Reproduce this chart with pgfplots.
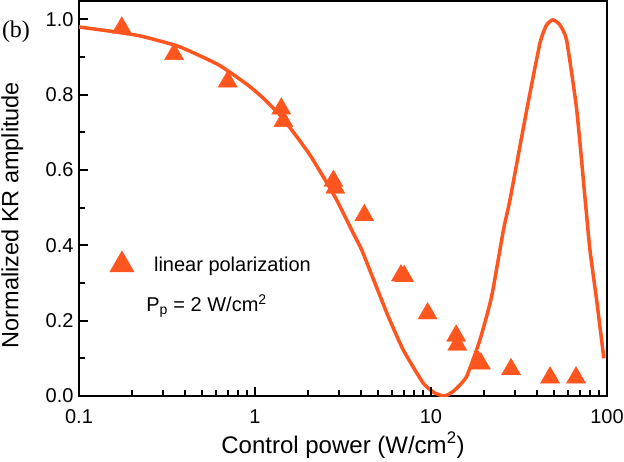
\documentclass[border=0pt]{standalone}
\usepackage{fontspec}
\setmainfont{Liberation Sans}
\newfontfamily\timesfont{Liberation Serif}
\usepackage{pgfplots}
\pgfplotsset{compat=1.18}
\definecolor{kro}{RGB}{255,85,30}
\pgfplotsset{bigtri legend/.style={legend image code/.code={%
    \draw[##1, mark size=14pt] plot coordinates {(0pt,0pt)};}}}

\begin{document}
\begin{tikzpicture}
\begin{axis}[
    name=ax,
    scale only axis,
    width=528pt, height=395pt,
    xmode=log,
    xmin=0.1, xmax=100,
    ymin=0, ymax=1.049,
    xtick={0.1,1,10,100},
    xticklabels={0.1,1,10,100},
    ytick={0,0.2,0.4,0.6,0.8,1.0},
    minor y tick num=1,
    xtick pos=left, ytick pos=left,
    tick align=inside,
    tickwidth=9pt, subtickwidth=6pt,
    every tick/.style={black, line width=2pt},
    axis line style={line width=1.8pt},
    tick label style={font=\fontsize{20}{24}\selectfont},
    xticklabel style={anchor=base, yshift=-27pt},
    yticklabel style={xshift=-2pt,
        /pgf/number format/fixed,
        /pgf/number format/fixed zerofill,
        /pgf/number format/precision=1,
        /pgf/number format/assume math mode=true},
    xlabel={Control power (W/cm\textsuperscript{2})},
    xlabel style={at={(axis description cs:0.5,-0.1443)}, anchor=base,
        font=\fontsize{24}{28}\selectfont},
    ylabel={Normalized KR amplitude},
    ylabel style={at={(axis description cs:-0.1146,0.458)}, anchor=base,
        font=\fontsize{23.5}{28}\selectfont},
    legend style={draw=none, fill=none, inner sep=0pt,
        at={(axis description cs:0.058,0.337)}, anchor=west,
        font=\fontsize{20}{24}\selectfont,
        /tikz/every odd column/.style={column sep=18pt}},
]

% model curve
\addplot[kro, line width=3.5pt, smooth, tension=0.3, no marks, forget plot] coordinates {
    (0.1, 0.980) (0.155, 0.968) (0.224, 0.956) (0.370, 0.928)
    (0.624, 0.879) (0.91, 0.826) (1.114, 0.791) (1.387, 0.746)
    (1.725, 0.689) (2.053, 0.640) (2.443, 0.582) (2.91, 0.521)
    (3.62, 0.432) (4.04, 0.388) (4.81, 0.299) (5.72, 0.211)
    (6.96, 0.122) (9.04, 0.034) (10.5, 0.008) (12.0, 0.000)
    (13.5, 0.014) (15.9, 0.051) (18.97, 0.149) (22.1, 0.264)
    (25.8, 0.441) (28.1, 0.521) (35.0, 0.760) (41.6, 0.937)
    (45.2, 0.984) (49.1, 0.999) (53.7, 0.987) (58.9, 0.946)
    (67.3, 0.760) (75.0, 0.526) (80.0, 0.388) (87.3, 0.255) (96.0, 0.100)
};

% measured points
\addplot[only marks, mark=triangle*, mark size=11pt, color=kro,
    mark options={fill=kro, draw=kro, line width=0.4pt}, bigtri legend]
coordinates {
    (0.175, 0.978) (0.347, 0.908) (0.70, 0.835) (1.41, 0.763)
    (1.45, 0.730) (2.79, 0.571) (2.86, 0.553) (4.18, 0.480)
    (6.75, 0.320) (7.05, 0.318) (9.57, 0.219) (13.9, 0.160)
    (14.1, 0.136) (18.6, 0.090) (19.2, 0.086) (28.5, 0.071)
    (47.5, 0.049) (66.7, 0.049)
};
\addlegendentry{linear polarization}

\node[anchor=base west, inner sep=0pt, font=\fontsize{20}{24}\selectfont]
    at (axis description cs:0.127,0.213) {P\textsubscript{p} = 2 W/cm\textsuperscript{2}};
\end{axis}

% inward tick marks along the bottom and left spines
\begin{scope}[shift={(ax.south west)}, line width=2pt]
\foreach \v/\len in {0.2/6,0.3/6,0.4/6,0.5/6,0.6/6,0.7/6,0.8/6,0.9/6,1/9,
        2/6,3/6,4/6,5/6,6/6,7/6,8/6,9/6,10/9,20/6,30/6,40/6,50/6,60/6,70/6,80/6,90/6}{
    \pgfmathsetmacro{\xx}{176*log10(10*\v)}
    \draw (\xx pt,0pt) -- (\xx pt,\len pt);
}
\foreach \v/\len in {0.1/6,0.2/9,0.3/6,0.4/9,0.5/6,0.6/9,0.7/6,0.8/9,0.9/6,1.0/9}{
    \pgfmathsetmacro{\yy}{376.55*\v}
    \draw (0pt,\yy pt) -- (\len pt,\yy pt);
}
\end{scope}

\node[font=\timesfont\fontsize{24}{28}\selectfont, inner sep=0pt]
    at ([shift={(-63pt,364pt)}]ax.south west) {(b)};
\pgfresetboundingbox
\path[use as bounding box] ([shift={(-79pt,-65pt)}]ax.south west) rectangle ([shift={(17pt,1pt)}]ax.north east);
\end{tikzpicture}
\end{document}
